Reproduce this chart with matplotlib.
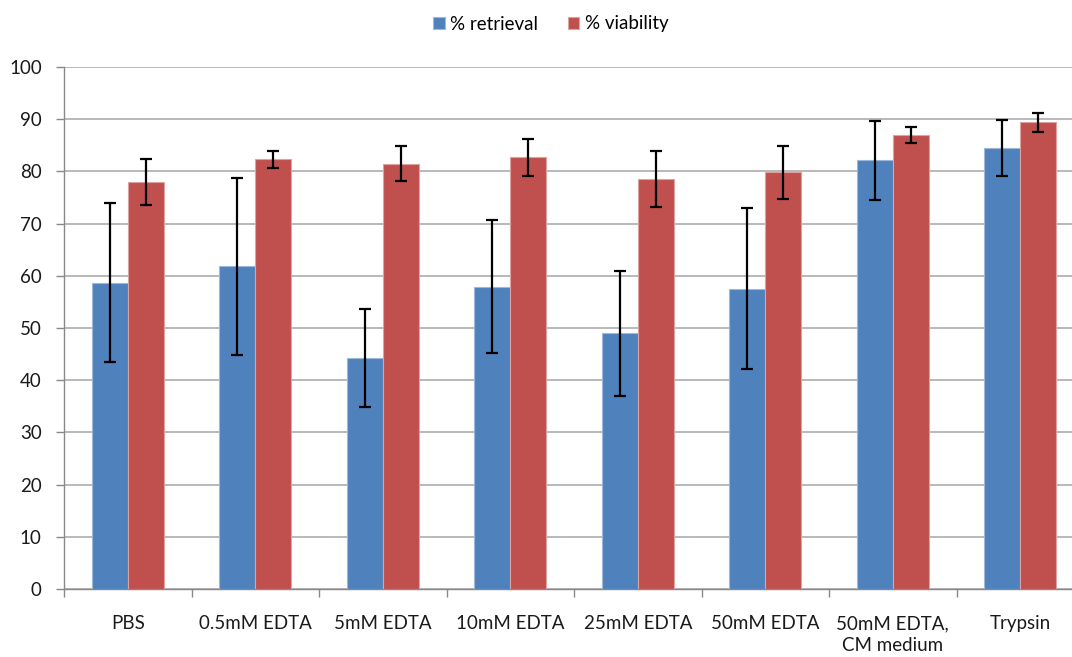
import matplotlib
matplotlib.use("Agg")
import matplotlib.pyplot as plt
import numpy as np

categories = ["PBS", "0.5mM EDTA", "5mM EDTA", "10mM EDTA", "25mM EDTA",
              "50mM EDTA", "50mM EDTA,\nCM medium", "Trypsin"]
retrieval = [58.7, 61.8, 44.3, 57.9, 49.0, 57.5, 82.1, 84.5]
retrieval_err = [15.2, 17.0, 9.4, 12.7, 12.0, 15.4, 7.5, 5.3]
viability = [78.0, 82.3, 81.5, 82.7, 78.5, 79.8, 87.0, 89.4]
viability_err = [4.4, 1.6, 3.3, 3.5, 5.4, 5.0, 1.5, 1.8]
yticks = list(range(0, 101, 10))
series_names = ["% retrieval", "% viability"]

plt.rcParams['font.family'] = ['Lato', 'DejaVu Sans']

W, H = 1072, 657
fig = plt.figure(figsize=(W / 100, H / 100), dpi=100)
ax = fig.add_axes([64 / W, (H - 589) / H, (1084 - 64) / W, (589 - 67) / H])

x = np.arange(len(categories))
bw = 0.283
blue = "#4F81BD"
red = "#C0504D"
ekw = dict(ecolor="black", elinewidth=1.6, capsize=4, capthick=1.6)
ax.bar(x - bw / 2, retrieval, bw, color=blue, edgecolor="#9DB8DA", linewidth=0.8,
       yerr=retrieval_err, error_kw=ekw, label=series_names[0], zorder=3)
ax.bar(x + bw / 2, viability, bw, color=red, edgecolor="#DDA3A1", linewidth=0.8,
       yerr=viability_err, error_kw=ekw, label=series_names[1], zorder=3)

ax.set_xlim(-0.5, len(categories) - 0.5)
ax.set_ylim(0, 100)
ax.set_yticks(yticks)
ax.yaxis.grid(True, color="#A6A6A6", linewidth=1.1, zorder=0)
ax.set_axisbelow(True)

ax.set_xticks(x)
ax.set_xticklabels(categories, fontsize=13.5, color="#1a1a1a", linespacing=1.35,
                   va="top")
ax.set_xticks(np.arange(len(categories) + 1) - 0.5, minor=True)
ax.tick_params(axis="x", which="major", length=0, pad=19)
ax.tick_params(axis="x", which="minor", length=6, color="#888888", width=1)
ax.tick_params(axis="y", length=6, color="#888888", width=1, labelsize=13.5,
               labelcolor="#1a1a1a", pad=10)

for s in ["top", "right"]:
    ax.spines[s].set_visible(False)
for s in ["left", "bottom"]:
    ax.spines[s].set_color("#888888")
    ax.spines[s].set_linewidth(1)

fig.legend(loc="center", bbox_to_anchor=(551 / W, 1 - 24 / H), ncol=2,
           frameon=False, fontsize=13.5, handlelength=0.6, handleheight=0.6,
           handletextpad=0.3, columnspacing=1.6)

fig.savefig("out.png", dpi=100)
